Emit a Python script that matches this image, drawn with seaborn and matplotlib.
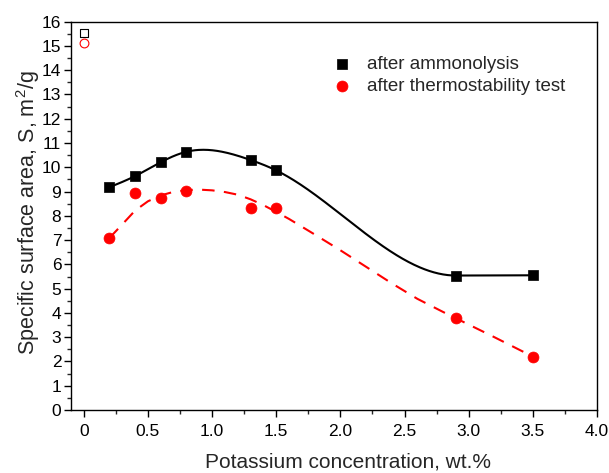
import numpy as np
import pandas as pd
import matplotlib
matplotlib.use("Agg")
import matplotlib.pyplot as plt
import seaborn as sns
from matplotlib.ticker import MultipleLocator, FixedLocator

# ---- data ----
conc = [0.2, 0.4, 0.6, 0.8, 1.3, 1.5, 2.9, 3.5]
s_ammon = [9.18, 9.64, 10.21, 10.64, 10.3, 9.87, 5.54, 5.55]
s_thermo = [7.09, 8.93, 8.72, 9.02, 8.34, 8.34, 3.78, 2.2]
ref_x = [0.0]
ref_ammon = [15.52]
ref_thermo = [15.11]
# dashed trend curve for the thermostability series
fit_x = [0.2, 0.3, 0.4, 0.5, 0.6, 0.7, 0.8, 0.9, 1.0, 1.1, 1.2, 1.3, 1.4, 1.5,
         1.6, 1.8, 2.0, 2.2, 2.4, 2.6, 2.8, 2.9, 3.2, 3.5]
fit_y = [7.09, 7.65, 8.22, 8.60, 8.84, 8.99, 9.06, 9.08, 9.05, 8.98, 8.87, 8.68, 8.44, 8.16,
         7.87, 7.23, 6.58, 5.90, 5.22, 4.58, 4.04, 3.78, 3.00, 2.20]
xtick_vals = [0, 0.5, 1.0, 1.5, 2.0, 2.5, 3.0, 3.5, 4.0]
xtick_labels = ["0", "0.5", "1.0", "1.5", "2.0", "2.5", "3.0", "3.5", "4.0"]
labels = ["after ammonolysis", "after thermostability test"]


def cubic_spline(x, y, xs, end_slope=0.0):
    """Cubic spline: natural at the left end, clamped slope at the right end."""
    x = np.asarray(x, float); y = np.asarray(y, float)
    n = len(x)
    h = np.diff(x)
    A = np.zeros((n, n)); b = np.zeros(n)
    A[0, 0] = 1
    for i in range(1, n - 1):
        A[i, i - 1] = h[i - 1]; A[i, i] = 2 * (h[i - 1] + h[i]); A[i, i + 1] = h[i]
        b[i] = 6 * ((y[i + 1] - y[i]) / h[i] - (y[i] - y[i - 1]) / h[i - 1])
    A[-1, -2] = h[-1]; A[-1, -1] = 2 * h[-1]
    b[-1] = 6 * (end_slope - (y[-1] - y[-2]) / h[-1])
    M = np.linalg.solve(A, b)
    out = np.empty_like(xs)
    for k, t in enumerate(xs):
        i = min(max(np.searchsorted(x, t) - 1, 0), n - 2)
        a = x[i + 1] - t; c = t - x[i]
        out[k] = (M[i] * a**3 + M[i + 1] * c**3) / (6 * h[i]) + \
            (y[i] / h[i] - M[i] * h[i] / 6) * a + (y[i + 1] / h[i] - M[i + 1] * h[i] / 6) * c
    return out


# spline connection of the ammonolysis points (flat tail to the last point)
xs = np.linspace(conc[0], conc[-2], 300)
curve_a = cubic_spline(conc[:-1], s_ammon[:-1], xs)
line_a = pd.DataFrame({"x": np.append(xs, conc[-1]), "y": np.append(curve_a, s_ammon[-1])})
line_t = pd.DataFrame({"x": fit_x, "y": fit_y})

sns.set_style("ticks")
plt.rcParams["font.family"] = ["Liberation Sans", "DejaVu Sans"]
plt.rcParams["mathtext.fontset"] = "custom"
plt.rcParams["mathtext.rm"] = "Liberation Sans"
plt.rcParams["mathtext.it"] = "Liberation Sans:italic"

fig = plt.figure(figsize=(6.09, 4.73), dpi=100)
ax = fig.add_axes([0.1166, 0.1332, 0.8637, 0.8210])

sns.lineplot(data=line_a, x="x", y="y", ax=ax, color="black", lw=1.5, legend=False, sort=False)
sns.lineplot(data=line_t, x="x", y="y", ax=ax, color="#ff0000", lw=1.5, legend=False, sort=False)
ax.lines[-1].set_dashes([6, 4.5])

sns.scatterplot(x=conc, y=s_ammon, ax=ax, marker="s", s=55, color="black",
                edgecolor="black", linewidth=0.5, label=labels[0], zorder=3)
sns.scatterplot(x=conc, y=s_thermo, ax=ax, marker="o", s=62, color="#ff0000",
                edgecolor="#ff0000", linewidth=0.5, label=labels[1], zorder=3)
ax.scatter(ref_x, ref_ammon, marker="s", s=36, facecolor="white", edgecolor="black",
           linewidth=0.8, zorder=3)
ax.scatter(ref_x, ref_thermo, marker="o", s=40, facecolor="white", edgecolor="#ff0000",
           linewidth=0.8, zorder=3)

ax.set_xlim(-0.1, 4.0)
ax.set_ylim(0, 16)
ax.xaxis.set_major_locator(FixedLocator(xtick_vals))
ax.set_xticklabels(xtick_labels)
ax.xaxis.set_minor_locator(MultipleLocator(0.25))
ax.yaxis.set_major_locator(MultipleLocator(1))
ax.yaxis.set_minor_locator(MultipleLocator(0.5))
ax.tick_params(which="major", direction="out", length=5, width=1, labelsize=12.5, colors="black")
ax.tick_params(which="minor", direction="out", length=3, width=1)
ax.tick_params(axis="x", pad=5)
ax.tick_params(axis="y", pad=2)
for sp in ax.spines.values():
    sp.set_visible(True); sp.set_linewidth(1.0); sp.set_color("black")

ax.set_xlabel("Potassium concentration, wt.%", fontsize=15)
ax.set_ylabel("Specific surface area, S, m$^2$/g", fontsize=15.5)
ax.xaxis.set_label_coords(0.526, -0.11)
ax.yaxis.set_label_coords(-0.055, 0.507)

ax.legend(loc="upper right", bbox_to_anchor=(0.939, 0.913), frameon=False, fontsize=13.5,
          handletextpad=0.32, labelspacing=0.28, borderaxespad=0, borderpad=0)

fig.savefig("out.png", dpi=100)
